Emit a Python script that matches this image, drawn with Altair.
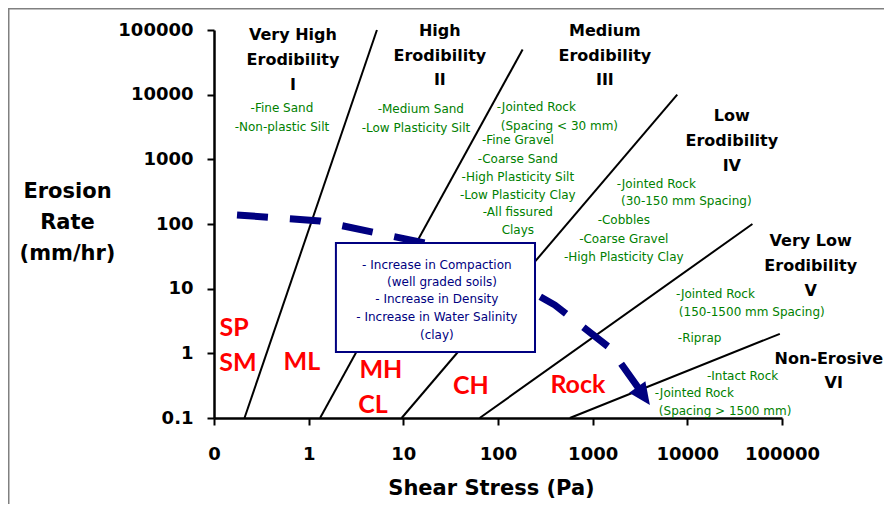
import altair as alt
import pandas as pd

# ---------------- data ----------------
X_TICKS = [0.1, 1, 10, 100, 1000, 10000, 100000]
Y_TICKS = [0.1, 1, 10, 100, 1000, 10000, 100000]

# erodibility category boundaries (straight on log-log axes)
boundary_x1 = [0.21, 1.32, 9.6, 64, 574]
boundary_y1 = [0.1, 0.1, 0.1, 0.1, 0.1]
boundary_x2 = [5.26, 182, 7820, 48700, 94800]
boundary_y2 = [100000, 50000, 10000, 100, 2]

# dashed trend arrow
trend_x = [0.175, 1.315, 16.9, 82, 399, 1520, 3150]
trend_y = [138, 111, 50.8, 20.9, 5.58, 1.21, 0.271]
tip_x = [4020]
tip_y = [0.159]

# category headings
cat_text = ["Very High", "Erodibility", "I",
            "High", "Erodibility", "II",
            "Medium", "Erodibility", "III",
            "Low", "Erodibility", "IV",
            "Very Low", "Erodibility", "V",
            "Non-Erosive", "VI"]
cat_x = [0.682, 0.682, 0.682,
         24.3, 24.3, 24.3,
         1346, 1346, 1346,
         29500, 29500, 29500,
         201000, 201000, 201000,
         312000, 352000]
cat_y = [83200, 34100, 14000,
         95800, 39300, 16700,
         95800, 39300, 16700,
         4660, 1910, 785,
         54.5, 22.4, 9.19,
         0.817, 0.348]

# material lists (centred)
mat_c_text = ["-Fine Sand", "-Non-plastic Silt",
              "-Medium Sand", "-Low Plasticity Silt",
              "-Fine Gravel", "-Coarse Sand", "-High Plasticity Silt",
              "-Low Plasticity Clay", "-All fissured", "Clays",
              "-Cobbles", "-Coarse Gravel", "-High Plasticity Clay"]
mat_c_x = [0.522, 0.522, 15.3, 13.6,
           162, 162, 162, 162, 162, 162,
           2130, 2130, 2130]
mat_c_y = [6180, 3150, 5970, 3040,
           1980, 1010, 531, 280, 153, 80.5,
           115, 58.5, 30.8]

# material lists (left aligned)
mat_l_text = ["-Jointed Rock", "(Spacing < 30 mm)",
              "-Jointed Rock", "(30-150 mm Spacing)",
              "-Jointed Rock", "(150-1500 mm Spacing)", "-Riprap",
              "-Intact Rock", "-Jointed Rock", "(Spacing > 1500 mm)"]
mat_l_x = [97.3, 107, 1800, 1990, 7570, 8130, 7940, 16100, 4540, 5000]
mat_l_y = [6410, 3260, 414, 226, 8.26, 4.35, 1.72, 0.446, 0.243, 0.128]

# soil classes
soil_text = ["SP", "SM", "ML", "MH", "CL", "CH", "Rock"]
soil_x = [0.163, 0.179, 0.849, 5.79, 4.77, 51.7, 698]
soil_y = [2.46, 0.708, 0.734, 0.552, 0.159, 0.313, 0.324]

# note box
box_x1 = [1.94]
box_x2 = [246]
box_y1 = [1.05]
box_y2 = [50.8]
note_text = ["- Increase in Compaction", "(well graded soils)",
             "- Increase in Density", "- Increase in Water Salinity", "(clay)"]
note_x = [22.6, 25.6, 22.6, 22.6, 22.6]
note_y = [23.2, 12.7, 6.92, 3.65, 1.92]

# ---------------- styling ----------------
NAVY = "#000080"
GREEN = "#008000"
RED = "#ff0000"
FONT = "DejaVu Sans"

W, H = 568, 388
PAD = {"left": 206, "top": 22, "right": 102, "bottom": 86}

xscale = alt.Scale(type="log", domain=[0.1, 100000], nice=False)
yscale = alt.Scale(type="log", domain=[0.1, 100000], nice=False)

xaxis = alt.Axis(
    values=X_TICKS, grid=False,
    labelExpr="datum.value < 1 ? '0' : format(datum.value, 'd')",
    labelFont=FONT, labelFontWeight="bold", labelFontSize=18, labelColor="black",
    labelPadding=29, labelBaseline="middle", labelFlush=False, labelOverlap=False,
    tickSize=7, tickWidth=2, tickColor="black",
    domainColor="black", domainWidth=2.5,
    title="Shear Stress (Pa)", titleFont=FONT, titleFontSize=21,
    titleFontWeight="bold", titleColor="black",
    titleX=277, titleY=70, titleAlign="center", titleBaseline="middle",
)
yaxis = alt.Axis(
    values=Y_TICKS, grid=False,
    labelExpr="datum.value < 1 ? '0.1' : format(datum.value, 'd')",
    labelFont=FONT, labelFontWeight="bold", labelFontSize=18, labelColor="black",
    labelPadding=14, labelFlush=False, labelOverlap=False,
    tickSize=7, tickWidth=2, tickColor="black",
    domainColor="black", domainWidth=2.5,
    title=["Erosion", "Rate", "(mm/hr)"], titleFont=FONT, titleFontSize=21,
    titleFontWeight="bold", titleColor="black", titleAngle=0,
    titleX=-147, titleY=161, titleAlign="center", titleBaseline="middle",
    titleLineHeight=31,
)

X = alt.X("x:Q", scale=xscale, axis=xaxis)
Y = alt.Y("y:Q", scale=yscale, axis=yaxis)

# ---------------- layers ----------------
bounds_df = pd.DataFrame({"x": boundary_x1, "y": boundary_y1,
                          "x2": boundary_x2, "y2": boundary_y2})
bounds = alt.Chart(bounds_df).mark_rule(color="black", strokeWidth=2).encode(
    x=X, y=Y, x2="x2:Q", y2="y2:Q")

trend_df = pd.DataFrame({"x": trend_x, "y": trend_y, "i": list(range(len(trend_x)))})
trend = alt.Chart(trend_df).mark_line(
    color=NAVY, strokeWidth=7, strokeDash=[31, 22], strokeCap="butt"
).encode(x=X, y=Y, order="i:Q")

tip_df = pd.DataFrame({"x": tip_x, "y": tip_y})
tip = alt.Chart(tip_df).mark_point(
    shape="M0,0L-0.9,-2L0.9,-2Z", filled=True, size=484, angle=325,
    color=NAVY, opacity=1, strokeWidth=0
).encode(x=X, y=Y)

box_df = pd.DataFrame({"x": box_x1, "x2": box_x2, "y": box_y1, "y2": box_y2})
box = alt.Chart(box_df).mark_rect(
    fill="white", stroke=NAVY, strokeWidth=2
).encode(x=X, x2="x2:Q", y=Y, y2="y2:Q")

note_df = pd.DataFrame({"x": note_x, "y": note_y, "t": note_text})
note = alt.Chart(note_df).mark_text(
    font=FONT, fontSize=12, color=NAVY, align="center", baseline="middle"
).encode(x=X, y=Y, text="t:N")

cat_df = pd.DataFrame({"x": cat_x, "y": cat_y, "t": cat_text})
cats = alt.Chart(cat_df).mark_text(
    font=FONT, fontSize=16, fontWeight="bold", color="black",
    align="center", baseline="middle"
).encode(x=X, y=Y, text="t:N")

matc_df = pd.DataFrame({"x": mat_c_x, "y": mat_c_y, "t": mat_c_text})
matc = alt.Chart(matc_df).mark_text(
    font=FONT, fontSize=12, color=GREEN, align="center", baseline="middle"
).encode(x=X, y=Y, text="t:N")

matl_df = pd.DataFrame({"x": mat_l_x, "y": mat_l_y, "t": mat_l_text})
matl = alt.Chart(matl_df).mark_text(
    font=FONT, fontSize=12, color=GREEN, align="left", baseline="middle"
).encode(x=X, y=Y, text="t:N")

soil_df = pd.DataFrame({"x": soil_x, "y": soil_y, "t": soil_text})
soils = alt.Chart(soil_df).mark_text(
    font="Lato", fontSize=25, fontWeight="bold", color=RED,
    align="center", baseline="middle"
).encode(x=X, y=Y, text="t:N")

# picture frame (top and left edges of the cropped figure)
frame_df = pd.DataFrame({"k": [0]})
frame_left = alt.Chart(frame_df).mark_rule(color="#808080", strokeWidth=1.5).encode(
    x=alt.value(-PAD["left"] + 0.75), y=alt.value(-PAD["top"]),
    y2=alt.value(H + PAD["bottom"]))
frame_top = alt.Chart(frame_df).mark_rule(color="#808080", strokeWidth=1.5).encode(
    x=alt.value(-PAD["left"]), x2=alt.value(W + PAD["right"]),
    y=alt.value(-PAD["top"] + 0.75))

chart = alt.layer(
    bounds, trend, tip, box, note, cats, matc, matl, soils, frame_left, frame_top
).properties(
    width=W, height=H, padding=PAD,
    autosize=alt.AutoSizeParams(type="none"),
    background="white",
).configure_view(stroke="transparent")

chart.save("out.html", embed_options={"renderer": "svg", "actions": False})
